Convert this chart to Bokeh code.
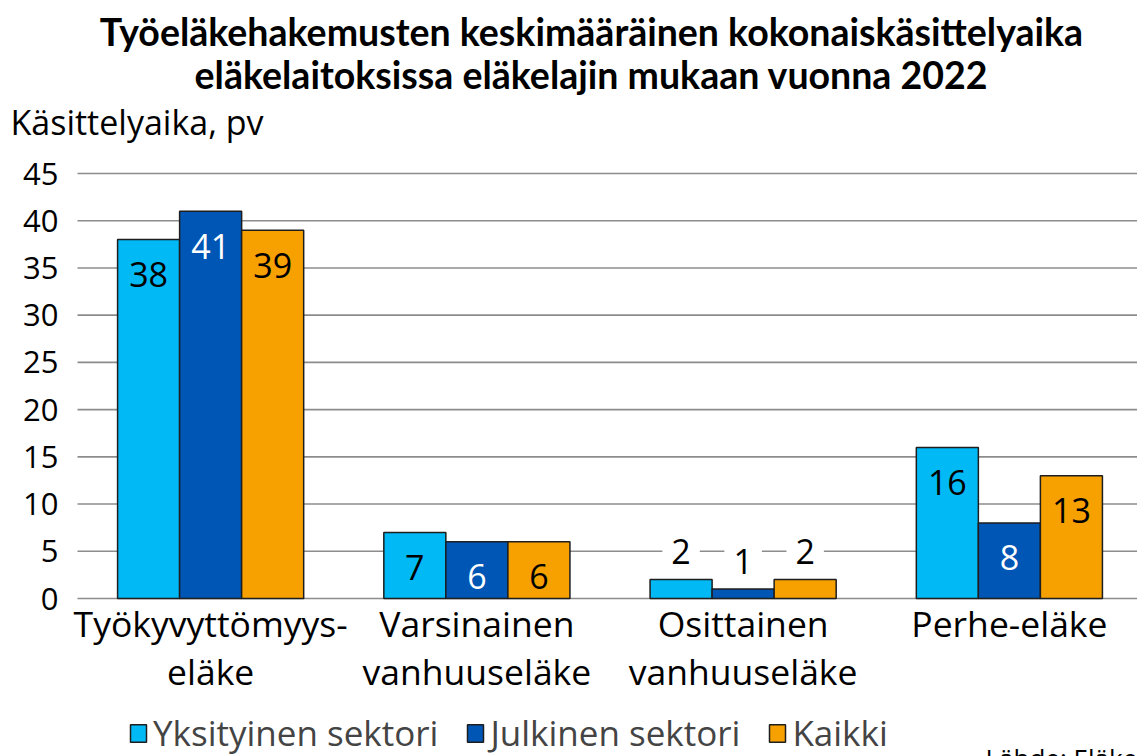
from bokeh.plotting import figure
from bokeh.models import ColumnDataSource, Range1d, Legend, LegendItem
from bokeh.transform import dodge
from bokeh.core.properties import value
from bokeh.embed import file_html
from bokeh.resources import INLINE

# ---- data ----
categories = ["Työkyvyttömyys-\neläke", "Varsinainen\nvanhuuseläke",
              "Osittainen\nvanhuuseläke", "Perhe-eläke"]
series_names = ["Yksityinen sektori", "Julkinen sektori", "Kaikki"]
yksityinen = [38, 7, 2, 16]
julkinen = [41, 6, 1, 8]
kaikki = [39, 6, 2, 13]
y_ticks = [0, 5, 10, 15, 20, 25, 30, 35, 40, 45]

title_line1 = "Työeläkehakemusten keskimääräinen kokonaiskäsittelyaika"
title_line2 = "eläkelaitoksissa eläkelajin mukaan vuonna 2022"
y_label = "Käsittelyaika, pv"
source_note = "Lähde: Eläketurvakeskus"

# ---- layout (pixels) ----
W, H = 1137, 756
PLOT_LEFT, BAND = 77, 266.25          # left edge of plotting area, width of one category band
BASE_Y, TOP_Y = 598, 173              # pixel rows of y=0 and y=45
K = (BASE_Y - TOP_Y) / (y_ticks[-1] - y_ticks[0])


def dx(px):  # pixel column -> data x
    return (px - PLOT_LEFT) / BAND - 0.5


def dy(py):  # pixel row -> data y
    return (BASE_Y - py) / K


# ---- style ----
FONT = "Open Sans"
TFONT = "Lato"
colors = ["#00B9F5", "#0056B4", "#F7A100"]
text_colors = ["black", "white", "black"]
grid_col = "#8c8c8c"
bar_w = 0.233
offsets = [-bar_w, 0.0, bar_w]

p = figure(width=W, height=H, x_range=Range1d(dx(0), dx(W)), y_range=Range1d(dy(H), dy(0)),
           toolbar_location=None, output_backend="svg", min_border=0,
           x_axis_location=None, y_axis_location=None, outline_line_color=None)
p.grid.visible = False

pos = list(range(len(categories)))

# gridlines (y ticks)
p.segment(x0=dx(PLOT_LEFT), x1=dx(W), y0=y_ticks, y1=y_ticks, line_color=grid_col, line_width=1.6)

# y tick labels
p.text(x=dx(PLOT_LEFT), y=y_ticks, text=[str(t) for t in y_ticks], x_offset=-19,
       text_align="right", text_baseline="middle", text_font=value(FONT),
       text_font_size="31px", text_color="black")

# category labels
p.text(x=pos, y=0, text=categories, y_offset=0, text_align="center", text_baseline="top",
       text_font=value(FONT), text_font_size="35.5px", text_color="black", text_line_height=1.02)

series = [yksityinen, julkinen, kaikki]
items = []
for i, (name, vals) in enumerate(zip(series_names, series)):
    src = ColumnDataSource(dict(pos=pos, val=vals))
    r = p.vbar(x=dodge("pos", offsets[i]), top="val", width=bar_w, source=src,
               fill_color=colors[i], line_color="#1e1e1e", line_width=1.5)
    items.append(LegendItem(label=name, renderers=[r]))

    inside = [(c, v) for c, v in zip(pos, vals) if v >= 4]
    outside = [(c, v) for c, v in zip(pos, vals) if v < 4]
    if inside:
        s_in = ColumnDataSource(dict(pos=[c for c, _ in inside], val=[v for _, v in inside],
                                     txt=[str(v) for _, v in inside]))
        p.text(x=dodge("pos", offsets[i]), y="val", text="txt", source=s_in,
               y_offset=35, text_align="center", text_baseline="middle",
               text_font=value(FONT), text_font_size="34px", text_color=text_colors[i])
    if outside:
        s_out = ColumnDataSource(dict(pos=[c for c, _ in outside], val=[v for _, v in outside],
                                      txt=[str(v) for _, v in outside]))
        p.text(x=dodge("pos", offsets[i]), y="val", text="txt", source=s_out,
               y_offset=-28, text_align="center", text_baseline="middle",
               text_font=value(FONT), text_font_size="34px", text_color="black",
               background_fill_color="white", padding=9)

legend = Legend(items=items, orientation="horizontal", location=(128, 0),
                label_text_font=FONT, label_text_font_size="35px",
                glyph_width=20, glyph_height=22, label_standoff=5, spacing=27,
                padding=0, margin=0, border_line_color=None, background_fill_alpha=0)
p.add_layout(legend, "center")

# titles and notes
p.text(x=[dx(591), dx(591)], y=[dy(31), dy(74)], text=[title_line1, title_line2],
       text_align="center", text_baseline="middle", text_font=value(TFONT),
       text_font_size="37.5px", text_font_style="bold", text_color="black")
p.text(x=dx(10), y=dy(121), text=[y_label], text_align="left", text_baseline="middle",
       text_font=value(FONT), text_font_size="34px", text_color="black")
p.text(x=dx(985), y=dy(739), text=[source_note], text_align="left", text_baseline="top",
       text_font=value(FONT), text_font_size="26px", text_color="black")

open("out.html", "w").write(file_html(p, INLINE))
